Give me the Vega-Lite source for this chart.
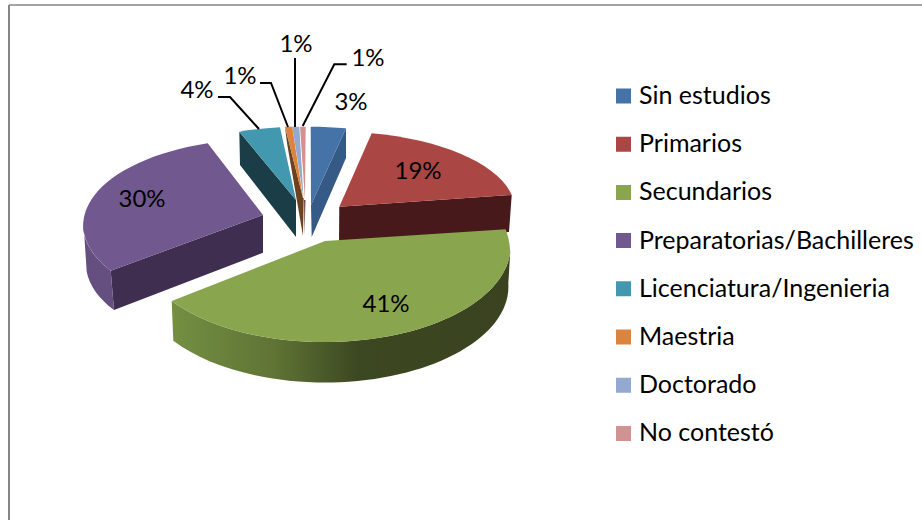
{
"$schema":"https://vega.github.io/schema/vega-lite/v6.json",
"width":913,"height":515,"padding":{"left":9,"top":5,"right":0,"bottom":0},
"autosize":{"type":"none"},"background":"white",
"config":{"view":{"stroke":null},"font":"Lato"},
"data":{"values":[
{"orden":1,"nivel":"Sin estudios","valor":0.03},
{"orden":2,"nivel":"Primarios","valor":0.19},
{"orden":3,"nivel":"Secundarios","valor":0.41},
{"orden":4,"nivel":"Preparatorias/Bachilleres","valor":0.30},
{"orden":5,"nivel":"Licenciatura/Ingenieria","valor":0.04},
{"orden":6,"nivel":"Maestria","valor":0.01},
{"orden":7,"nivel":"Doctorado","valor":0.01},
{"orden":8,"nivel":"No contestó","valor":0.01}
]},
"layer":[
{"data":{"values":[{"marco":"borde"}]},"mark":{"type":"rule","color":"#868686","strokeWidth":2},"encoding":{"x":{"value":0}}},
{"data":{"values":[{"marco":"borde"}]},"mark":{"type":"rule","color":"#868686","strokeWidth":1.4},"encoding":{"y":{"value":0}}},
{"transform":[{"filter":"datum.orden!=3"}],
 "mark":{"type":"point","filled":true,"opacity":1,"size":4,"strokeWidth":0},
 "encoding":{
  "x":{"field":"orden","type":"quantitative","axis":null,"scale":{"type":"linear","zero":false,"nice":false,"domain":[1,2,3,4,5,6,7,8],"range":[302,330,316,254,287,294,294,296]}},
  "y":{"field":"orden","type":"quantitative","axis":null,"scale":{"type":"linear","zero":false,"nice":false,"domain":[1,2,3,4,5,6,7,8],"range":[200,202,236,210,195,193,193,193]}},
  "shape":{"field":"nivel","type":"nominal","legend":null,"scale":{"domain":["Sin estudios","Primarios","Preparatorias/Bachilleres","Licenciatura/Ingenieria","Maestria","Doctorado","No contestó"],"range":[
   "M35 -76.7L35 -47L0.7 32L0 0Z",
   "M0.3 -0.3L172.7 -12L170 25L0 38Z",
   "M0 0L-152.3 55.7L-149 95L0 37.7Z",
   "M-56.7 -68.3L0 0L0 37L-56 -35Z",
   "M-18 -71.3L0 0L0 38L-16 -55Z",
   "M0 0L0.8 0L0.4 38Z",
   "M-1 2L0.5 2L-0.5 38Z"]}},
  "fill":{"condition":[
    {"test":"datum.orden==1","value":"#355a85"},
    {"test":"datum.orden==2","value":"#47191a"},
    {"test":"datum.orden==4","value":"#3f2e50"},
    {"test":"datum.orden==5","value":"#1b3d47"},
    {"test":"datum.orden==6","value":"#6b4120"},
    {"test":"datum.orden==7","value":"#5d6a7e"}],
   "value":"#6a4a4a"}
 }},
{"transform":[{"filter":"datum.orden==4"}],
 "mark":{"type":"point","filled":true,"opacity":1,"size":4,"strokeWidth":0,"fill":"#654f80","shape":"M-179.7 5A180 86 0 0 0 -152.3 55.7L-149 95A180 86 0 0 1 -176.3 56.7Z"},
 "encoding":{
  "x":{"field":"orden","type":"quantitative","axis":null,"scale":{"type":"linear","zero":false,"nice":false,"domain":[1,2,3,4,5,6,7,8],"range":[302,330,316,254,287,294,294,296]}},
  "y":{"field":"orden","type":"quantitative","axis":null,"scale":{"type":"linear","zero":false,"nice":false,"domain":[1,2,3,4,5,6,7,8],"range":[200,202,236,210,195,193,193,193]}}
 }},
{"transform":[{"filter":"datum.orden==3"}],
 "mark":{"type":"point","filled":true,"opacity":1,"size":4,"strokeWidth":0,
  "fill":{"gradient":"linear","x1":0,"x2":1,"y1":0,"y2":0,"stops":[{"offset":0,"color":"#748f42"},{"offset":0.3,"color":"#5f7435"},{"offset":0.55,"color":"#3c4821"},{"offset":1,"color":"#3a421f"}]},
  "shape":"M185.3 10.7A185 96 0 0 1 15 100.7A185 96 0 0 1 -153.3 60L-151.7 99.7A185 96 0 0 0 15 141.3A185 96 0 0 0 183.3 42.3Z"},
 "encoding":{
  "x":{"field":"orden","type":"quantitative","axis":null,"scale":{"type":"linear","zero":false,"nice":false,"domain":[1,2,3,4,5,6,7,8],"range":[302,330,316,254,287,294,294,296]}},
  "y":{"field":"orden","type":"quantitative","axis":null,"scale":{"type":"linear","zero":false,"nice":false,"domain":[1,2,3,4,5,6,7,8],"range":[200,202,236,210,195,193,193,193]}}
 }},
{"mark":{"type":"point","filled":true,"opacity":1,"size":4,"strokeWidth":0},
 "encoding":{
  "x":{"field":"orden","type":"quantitative","axis":null,"scale":{"type":"linear","zero":false,"nice":false,"domain":[1,2,3,4,5,6,7,8],"range":[302,330,316,254,287,294,294,296]}},
  "y":{"field":"orden","type":"quantitative","axis":null,"scale":{"type":"linear","zero":false,"nice":false,"domain":[1,2,3,4,5,6,7,8],"range":[200,202,236,210,195,193,193,193]}},
  "shape":{"field":"nivel","type":"nominal","legend":null,"scale":{"domain":["Sin estudios","Primarios","Secundarios","Preparatorias/Bachilleres","Licenciatura/Ingenieria","Maestria","Doctorado","No contestó"],"range":[
   "M0 0L-0.3 -78.3A180 78 0 0 1 35 -76.7Z",
   "M0.3 -0.3L32.7 -73.7A180 78 0 0 1 172.7 -12Z",
   "M0 0L180.7 -11.7Q184.5 -2 185.3 10.7A185 96 0 0 1 15 100.7A185 96 0 0 1 -153.3 60Z",
   "M0 0L-55.3 -71.7A180 86 0 0 0 -152.3 55.7Z",
   "M0 0L-16 -72.7A180 78 0 0 0 -56.7 -68.3Z",
   "M-18 -71.3L-10.7 -71.3L0 0Z",
   "M-10.7 -71.3L-3.7 -71.3L0.5 0Z",
   "M-5 -71.3L0.7 -71.3L0 2Z"]}},
  "fill":{"field":"nivel","type":"nominal","title":null,"scale":{"domain":["Sin estudios","Primarios","Secundarios","Preparatorias/Bachilleres","Licenciatura/Ingenieria","Maestria","Doctorado","No contestó"],"range":["#4573a7","#aa4644","#89a54e","#71588f","#4298af","#db843d","#93a9cf","#d19392"]},
   "legend":{"orient":"none","legendX":602,"legendY":76.5,"symbolType":"square","symbolSize":225,"symbolStrokeWidth":0,"labelFontSize":25,"labelFont":"Lato","labelColor":"#000000","labelOffset":3,"rowPadding":19.2,"labelLimit":320,"clipHeight":29}}
 }},
{"transform":[{"filter":"datum.orden>=5"}],
 "mark":{"type":"point","filled":false,"opacity":1,"size":4,"strokeWidth":2,"stroke":"#000000","fill":null},
 "encoding":{
  "x":{"field":"orden","type":"quantitative","axis":null,"scale":{"type":"linear","zero":false,"nice":false,"domain":[1,2,3,4,5,6,7,8],"range":[302,330,316,254,287,294,294,296]}},
  "y":{"field":"orden","type":"quantitative","axis":null,"scale":{"type":"linear","zero":false,"nice":false,"domain":[1,2,3,4,5,6,7,8],"range":[200,202,236,210,195,193,193,193]}},
  "shape":{"field":"nivel","type":"nominal","legend":null,"scale":{"domain":["Licenciatura/Ingenieria","Maestria","Doctorado","No contestó"],"range":[
   "M-78 -103L-66 -103L-37 -71",
   "M-43 -115L-32 -115L-15 -71",
   "M-8 -140L-8 -71",
   "M41.7 -133.7L29.3 -133.7L-2.3 -72"]}}
 }},
{"mark":{"type":"text","fontSize":24,"font":"Lato","color":"#000000","align":"center","baseline":"middle"},
 "encoding":{
  "x":{"field":"orden","type":"quantitative","axis":null,"scale":{"type":"linear","zero":false,"nice":false,"domain":[1,2,3,4,5,6,7,8],"range":[342,409,377,133,188,231,287,359]}},
  "y":{"field":"orden","type":"quantitative","axis":null,"scale":{"type":"linear","zero":false,"nice":false,"domain":[1,2,3,4,5,6,7,8],"range":[98,167,300,195,86,72,40,54]}},
  "text":{"field":"valor","type":"quantitative","format":".0%"}
 }}
],
"resolve":{"scale":{"x":"independent","y":"independent","shape":"independent"}}
}
